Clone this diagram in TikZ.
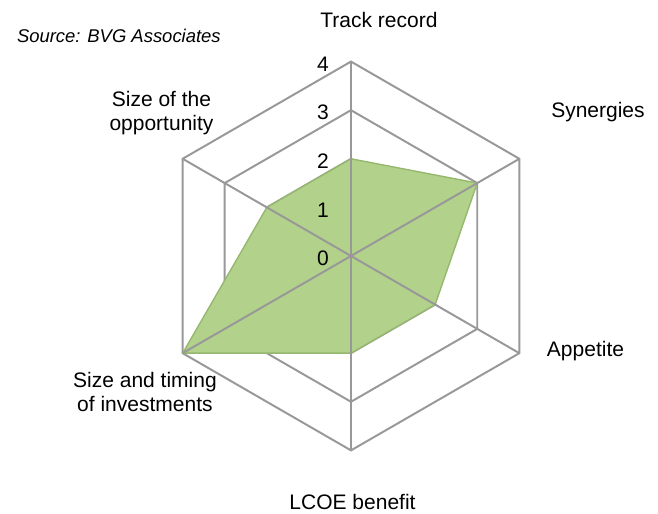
\documentclass[tikz,border=0pt]{standalone}
\usepackage{fontspec}
\setmainfont{Liberation Sans}
\setsansfont{Liberation Sans}
\definecolor{gridgray}{RGB}{152,152,152}
\definecolor{radargreen}{RGB}{178,209,138}
\definecolor{radaredge}{RGB}{150,184,110}
\tikzset{
  gridline/.style={draw=gridgray,line width=1.15pt},
  radar/.style={fill=radargreen,draw=radaredge,line width=0.8pt,line join=round},
  axlbl/.style={font=\fontsize{12.3}{14.1}\selectfont,align=center,anchor=base,inner sep=0pt},
  ticklbl/.style={font=\fontsize{12.3}{14.1}\selectfont,anchor=east,inner sep=0pt},
}
\begin{document}
\begin{tikzpicture}[x=1cm,y=1cm]
	\useasboundingbox (-7.222,-5.309) rectangle (6.317,5.267);
	\coordinate (O) at (0,0);
	\foreach \a/\n in {90/track,30/syn,-30/app,-90/lcoe,210/timing,150/size}
		\coordinate (\n) at (\a:4);
	% grid
	\foreach \r in {1,...,4}
		\draw[gridline] (90:\r)--(30:\r)--(-30:\r)--(-90:\r)--(210:\r)--(150:\r)--cycle;
	% data
	\filldraw[radar] (90:2)--(30:3)--(-30:2)--(-90:2)--(210:4)--(150:2)--cycle;
	\foreach \n in {track,syn,app,lcoe,timing,size}
		\draw[gridline] (O)--(\n);
	\foreach \k in {0,...,4}
		\node[ticklbl] (t\k) at (-0.45,\k-0.05) {\k};
	\node[axlbl] (ltrack) at (0.576,4.691) {Track record};
	\node[axlbl] (lsyn) at (5.082,2.84) {Synergies};
	\node[axlbl] (lapp) at (4.825,-2.078) {Appetite};
	\node[axlbl] (llcoe) at (0.031,-5.226) {LCOE benefit};
	\node[axlbl] (ltiming) at (-4.239,-3.21) {Size and timing\\of investments};
	\node[axlbl] (lsize) at (-3.899,2.572) {Size of the\\opportunity};
	\node[font=\fontsize{10.8}{13}\selectfont\itshape,anchor=base west,inner sep=0pt] (src) at (-6.879,4.383) {Source: BVG Associates};
\end{tikzpicture}
\end{document}
